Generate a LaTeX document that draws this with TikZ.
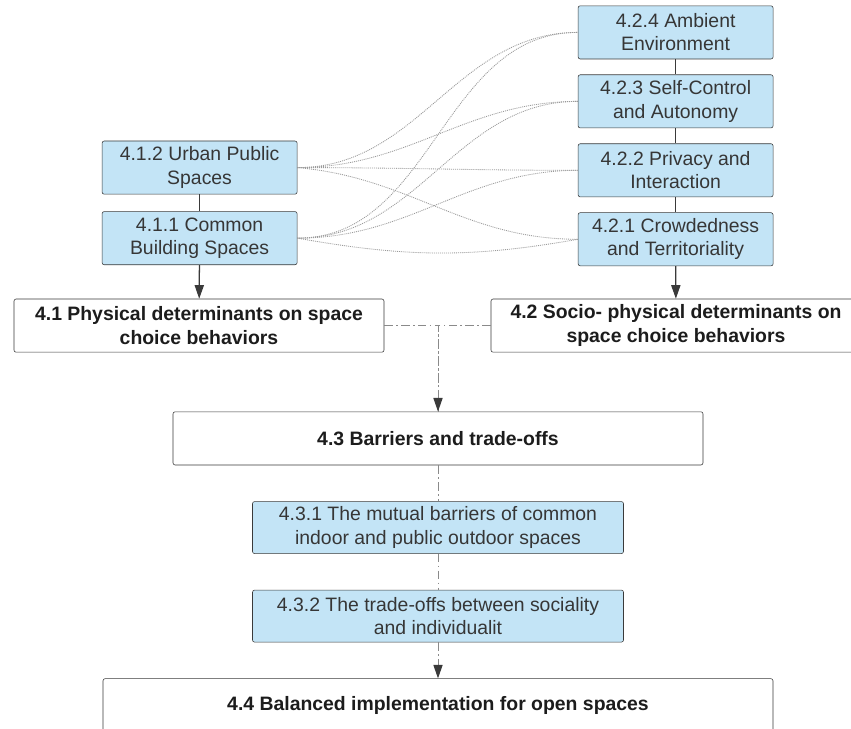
\documentclass[tikz,border=0pt]{standalone}
\usepackage{fontspec}
\setmainfont{Liberation Sans}
\usetikzlibrary{arrows.meta,positioning}
\definecolor{subblue}{HTML}{C3E4F6}
\definecolor{boxline}{HTML}{3A3A3A}
\definecolor{subtext}{HTML}{363636}
\definecolor{headtext}{HTML}{1C1C1C}
\definecolor{linkgray}{HTML}{9A9A9A}
\definecolor{mergegray}{HTML}{8A8A8A}
\newcommand\boxfont{\fontsize{13.8}{16.6}\selectfont}
\tikzset{
  sub/.style={draw=boxline,fill=subblue,rounded corners=1.5pt,align=center,
    text=subtext,minimum height=1.33cm,inner sep=2pt,font=\boxfont},
  head/.style={draw=boxline,fill=white,rounded corners=1.5pt,align=center,
    text=headtext,minimum height=1.33cm,inner sep=2pt,font=\boxfont\bfseries},
  arrow/.style={-{Triangle[length=3.4mm,width=2.3mm]},draw=boxline,line width=0.9pt},
  link/.style={draw=linkgray,line width=0.6pt,dash pattern=on 0.7pt off 0.7pt},
  merge/.style={draw=mergegray,line width=0.7pt,dash pattern=on 6pt off 2.5pt on 1pt off 2.5pt},
  mergearrow/.style={merge,-{Triangle[length=3.4mm,width=2.3mm,color=boxline]}}
}
\begin{document}
\begin{tikzpicture}[node distance=0.38cm]
  \useasboundingbox (0,0) rectangle (21.275,-18.225);
  % socio-physical sub-topics
  \node[sub,minimum width=4.875cm] (q424) at (16.89,-0.81) {4.2.4 Ambient\\Environment};
  \node[sub,minimum width=4.875cm,below=of q424] (q423) {4.2.3 Self-Control\\and Autonomy};
  \node[sub,minimum width=4.875cm,below=of q423] (q422) {4.2.2 Privacy and\\Interaction};
  \node[sub,minimum width=4.875cm,below=of q422] (q421) {4.2.1 Crowdedness\\and Territoriality};
  % physical sub-topics
  \node[sub,minimum width=4.875cm] (p412) at (4.99,-4.19) {4.1.2 Urban Public\\Spaces};
  \node[sub,minimum width=4.875cm,below=0.42cm of p412] (p411) {4.1.1 Common\\Building Spaces};
  % main sections
  \node[head,minimum width=9.25cm] (d41) at (4.975,-8.14) {4.1 Physical determinants on space\\choice behaviors};
  \node[head,minimum width=9.25cm] (d42) at (16.9,-8.14) {4.2 Socio- physical determinants on\\space choice behaviors};
  \node[head,minimum width=13.25cm] (d43) at (10.95,-10.96) {4.3 Barriers and trade-offs};
  \node[sub,minimum width=9.275cm,minimum height=1.3cm,below=0.9cm of d43] (t431) {4.3.1 The mutual barriers of common\\indoor and public outdoor spaces};
  \node[sub,minimum width=9.275cm,minimum height=1.3cm,below=0.9cm of t431] (t432) {4.3.2 The trade-offs between sociality\\and individualit};
  \node[head,minimum width=16.75cm,below=0.9cm of t432] (d44) {4.4 Balanced implementation for open spaces};
  % stacks
  \draw[boxline,line width=0.9pt] (q424)--(q423)--(q422)--(q421);
  \draw[arrow] (q421) -- (d42);
  \draw[boxline,line width=0.9pt] (p412)--(p411);
  \draw[arrow] (p411) -- (d41);
  % cross links
  \foreach \q in {q424,q423,q422} {
    \draw[link] (p412.east) to[out=0,in=180] (\q.west);
    \draw[link] (p411.east) to[out=0,in=180] (\q.west);
  }
  \draw[link] (p412.east) to[out=-5,in=180] (q421.west);
  \draw[link] (p411.east) to[out=-10,in=190] (q421.west);
  % merge into 4.3
  \draw[merge] (d41.east) -| (d43.north);
  \draw[mergearrow] (d42.west) -| (d43.north);
  \draw[merge] (d43) -- (t431);
  \draw[merge] (t431) -- (t432);
  \draw[mergearrow] (t432) -- (d44);
\end{tikzpicture}
\end{document}
